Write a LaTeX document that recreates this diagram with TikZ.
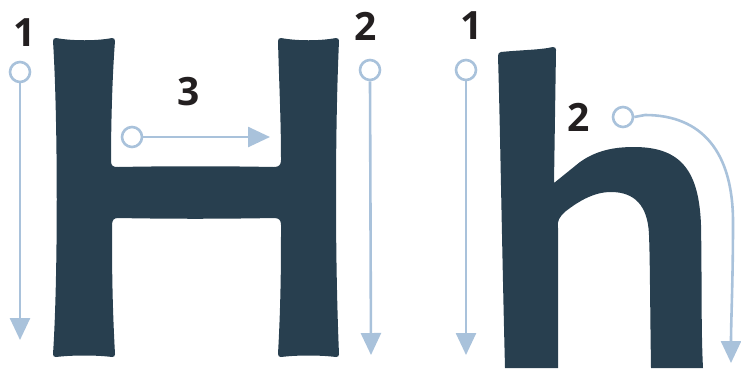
\documentclass[tikz,border=0pt]{standalone}
\usepackage{fontspec}
\setmainfont{Open Sans}
\usepackage{xcolor}
\usepackage{tikz}
\usetikzlibrary{arrows.meta}
\definecolor{letterblue}{HTML}{283F4F}
\definecolor{strokeblue}{HTML}{A9C2DB}
\definecolor{numberblack}{HTML}{231F20}
\tikzset{
    letter style/.style={fill=letterblue,draw=none},
    stroke color/.style={strokeblue},
    start dot/.style={circle,draw=strokeblue,fill=white,line width=2.6pt,minimum size=20pt,inner sep=0pt},
    stroke arr/.style={stroke color,line width=2.6pt,-{Triangle[length=22pt,width=20pt]}},
    step number/.style={text=numberblack,font=\fontsize{39}{40}\selectfont\bfseries,inner sep=0pt},
}

\begin{document}
\begin{tikzpicture}[x=1pt,y=-1pt]
        \useasboundingbox (0,0) rectangle (741,368);

        % capital H
        \fill[letter style] (56,38) .. controls (72,41) and (97,41) .. (112,38) .. controls (114,38) and (115,39) .. (115,41)
            .. controls (112,80) and (111,130) .. (111,161) .. controls (111,166) and (113,167) .. (118,167)
            .. controls (170,166) and (220,166) .. (274,167) .. controls (279,167) and (281,165) .. (281,160)
            .. controls (281,120) and (279,80) .. (278,41) .. controls (278,39) and (279,38) .. (281,38)
            .. controls (297,41) and (320,41) .. (336,38) .. controls (338,38) and (339,39) .. (339,41)
            .. controls (335,130) and (335,260) .. (339,354) .. controls (339,356) and (338,357) .. (336,357)
            .. controls (320,355) and (297,355) .. (281,357) .. controls (279,357) and (278,356) .. (278,354)
            .. controls (281,300) and (281,260) .. (281,225) .. controls (281,220) and (279,218) .. (274,218)
            .. controls (220,219) and (170,219) .. (118,218) .. controls (114,218) and (112,220) .. (112,225)
            .. controls (112,260) and (112,300) .. (115,354) .. controls (115,356) and (114,357) .. (112,357)
            .. controls (97,355) and (72,355) .. (56,357) .. controls (54,357) and (53,356) .. (53,354)
            .. controls (58,280) and (58,120) .. (53,41) .. controls (53,39) and (54,38) .. (56,38) -- cycle;

        % small h
        \fill[letter style] (501,52) .. controls (520,50) and (540,50) .. (553,47) .. controls (555,47) and (556,48) .. (556,50)
            -- (554,183) -- (580,162)
            .. controls (597,150) and (615,147) .. (634,147)
            .. controls (682,147) and (699,172) .. (701,225)
            .. controls (702,280) and (701,330) .. (703,368)
            -- (651,368)
            .. controls (650,300) and (650,260) .. (649,235)
            .. controls (648,205) and (634,192) .. (611,192)
            .. controls (594,192) and (579,201) .. (566,211)
            .. controls (559,217) and (557,221) .. (558,228)
            -- (558,368) -- (505,368)
            .. controls (502,250) and (500,120) .. (498,56) .. controls (498,54) and (499,52) .. (501,52) -- cycle;

        % stroke order, H
        \node[step number] (HOneNum) at (25,33) {1};
        \node[start dot] (HOne) at (20,72) {};
        \coordinate (HOneEnd) at (20,340);
        \draw[stroke arr] (HOne.south) -- (HOneEnd);

        \node[step number] (HTwoNum) at (366,26) {2};
        \node[start dot] (HTwo) at (370,70) {};
        \coordinate (HTwoEnd) at (371,355);
        \draw[stroke arr] (HTwo.south) -- (HTwoEnd);

        \node[step number] (HThreeNum) at (189,92) {3};
        \node[start dot] (HThree) at (132,137) {};
        \coordinate (HThreeEnd) at (270,137);
        \draw[stroke arr] (HThree.east) -- (HThreeEnd);

        % stroke order, h
        \node[step number] (hOneNum) at (472,26) {1};
        \node[start dot] (hOne) at (466,70) {};
        \coordinate (hOneEnd) at (466,355);
        \draw[stroke arr] (hOne.south) -- (hOneEnd);

        \node[step number] (hTwoNum) at (579,117) {2};
        \node[start dot] (hTwo) at (623,117) {};
        \coordinate (hTwoEnd) at (731,363);
        \draw[stroke arr] (hTwo.east) -- (645,115) .. controls (702,115) and (733,152) .. (733,222)
            .. controls (733,280) and (731,320) .. (hTwoEnd);
\end{tikzpicture}
\end{document}
